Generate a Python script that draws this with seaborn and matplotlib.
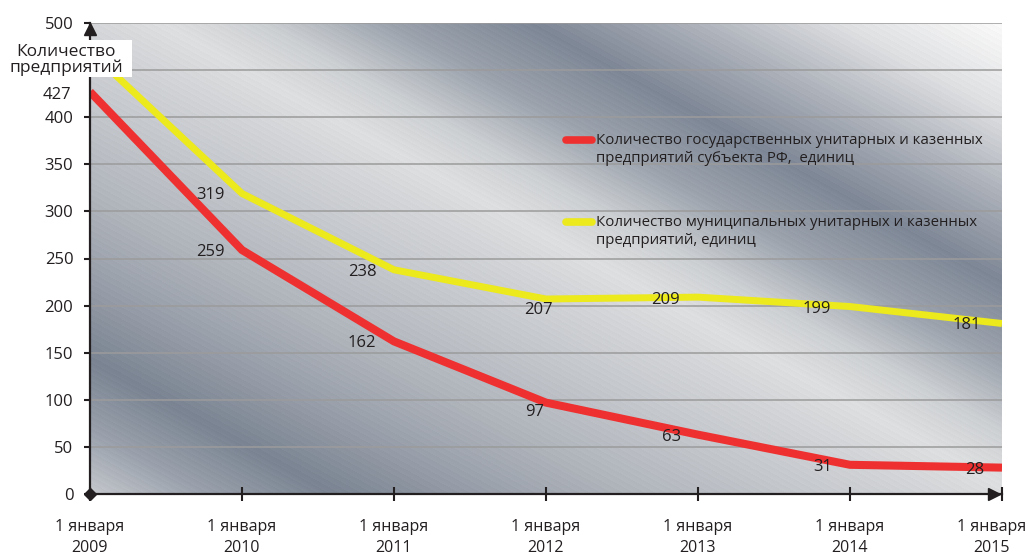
import numpy as np
import pandas as pd
import matplotlib
matplotlib.use('Agg')
import matplotlib.pyplot as plt
import seaborn as sns
from matplotlib.colors import to_rgb
from matplotlib.patches import Rectangle
from matplotlib.transforms import ScaledTranslation

# ---------------- data ----------------
years = ['2009', '2010', '2011', '2012', '2013', '2014', '2015']
tick_labels = ['1 января\n' + y for y in years]
state_values = [427, 259, 162, 97, 63, 31, 28]
municipal_values = [470, 319, 238, 207, 209, 199, 181]
state_label = 'Количество государственных унитарных и казенных\nпредприятий субъекта РФ,  единиц'
municipal_label = 'Количество муниципальных унитарных и казенных\nпредприятий, единиц'
y_ticks = [0, 50, 100, 150, 200, 250, 300, 350, 400, 450, 500]
y_tick_labels = ['0', '50', '100', '150', '200', '250', '300', '350', '400', '', '500']
axis_title = 'Количество\nпредприятий'

# label offsets in pixels (style)
state_offsets = [(-33, -3), (-32, -2), (-32, -2), (-11, -9), (-26, -2), (-27, -2), (-27, -2.5)]
municipal_offsets = [None, (-32, -1.5), (-32, -2), (-8, -11), (-33, -3), (-33, -2), (-35, -1.5)]

RED = '#ee3130'
YEL = '#ece91c'
INK = '#231f20'

plt.rcParams['font.family'] = ['Open Sans', 'DejaVu Sans']

fig = plt.figure(figsize=(10.28, 5.57), dpi=100)
L, R, B, T = 90, 1002, 494, 23
ax = fig.add_axes([L / 1028, (557 - B) / 557, (R - L) / 1028, (B - T) / 557])

# ---------------- background gradient ----------------
W, H = R - L, B - T
xg = L + np.arange(W)
yg = T + np.arange(H)
X, Y = np.meshgrid(xg, yg)
P = Y - 0.55 * X
prof = [(-530, '#fbfbfb'), (-440, '#dfe0e2'), (-350, '#a9aeb7'), (-270, '#7e8796'),
        (-190, '#9ca3ad'), (-120, '#cdd0d3'), (-65, '#dedfe0'), (-20, '#d3d5d8'),
        (60, '#c3c6cb'), (150, '#afb4bb'), (230, '#989ea9'), (310, '#7a8492'),
        (380, '#9aa1ac'), (460, '#d0d2d5')]
pp = [a for a, _ in prof]
cc = np.array([to_rgb(c) for _, c in prof])
img = np.stack([np.interp(P, pp, cc[:, k]) for k in range(3)], axis=-1)
img += (0.018 * (((P / 6.0) % 1.0) - 0.5))[..., None]
img = np.clip(img, 0, 1)
ax.imshow(img, extent=(0, 6, 0, 500), aspect='auto', origin='upper', zorder=0,
          interpolation='bilinear')

# ---------------- lines ----------------
n = len(years)
df = pd.DataFrame({
    'idx': list(range(n)) * 2,
    'value': state_values + municipal_values,
    'series': ['state'] * n + ['municipal'] * n,
})
sns.lineplot(data=df, x='idx', y='value', hue='series', hue_order=['municipal', 'state'],
             palette={'state': RED, 'municipal': YEL}, linewidth=5.5, legend=False,
             sort=False, ax=ax, zorder=3)
for ln in ax.lines:
    ln.set_solid_joinstyle('miter')
    ln.set_solid_capstyle('butt')
ax.lines[0].set_linewidth(5.0)
ax.lines[1].set_linewidth(5.8)

ax.set_xlim(0, 6)
ax.set_ylim(0, 500)

# ---------------- data labels ----------------
for i, (v, off) in enumerate(zip(state_values, state_offsets)):
    ax.annotate(str(v), (i, v), xytext=off, textcoords='offset pixels', ha='center',
                va='center', fontsize=12, color=INK, annotation_clip=False, zorder=6)
for i, (v, off) in enumerate(zip(municipal_values, municipal_offsets)):
    if off is None:
        continue
    ax.annotate(str(v), (i, v), xytext=off, textcoords='offset pixels', ha='center',
                va='center', fontsize=12, color=INK, annotation_clip=False, zorder=6)

# ---------------- axes styling ----------------
ax.set_xticks(range(n))
ax.set_xticklabels(tick_labels, linespacing=1.45)
ax.set_yticks(y_ticks)
ax.set_yticklabels(y_tick_labels)
ax.set_xlabel('')
ax.set_ylabel('')
ax.yaxis.grid(True, color='#9b9b9b', linewidth=1.1)
ax.xaxis.grid(False)
ax.set_axisbelow(True)
for s in ['top', 'right']:
    ax.spines[s].set_visible(False)
for s in ['left', 'bottom']:
    ax.spines[s].set_color(INK)
    ax.spines[s].set_linewidth(1.6)
    ax.spines[s].set_zorder(5)
ax.tick_params(axis='y', direction='out', length=4, width=1.5, pad=8, labelsize=12,
               colors=INK)
ax.tick_params(axis='x', direction='inout', length=10, width=1.5, pad=13, labelsize=11.5,
               colors=INK)
last = ax.get_xticklabels()[-1]
last.set_transform(last.get_transform() + ScaledTranslation(-10 / 100, 0, fig.dpi_scale_trans))

# axis arrows and origin marker
ax.plot([0], [0.987], marker='^', markersize=8.5, color=INK, transform=ax.transAxes,
        clip_on=False, zorder=7)
ax.plot([0.991], [0], marker='>', markersize=8.5, color=INK, transform=ax.transAxes,
        clip_on=False, zorder=7)
ax.plot([0], [0], marker='D', markersize=6, color=INK, transform=ax.transAxes,
        clip_on=False, zorder=7)

# ---------------- legend (manual) ----------------
leg_items = [(state_label, RED, 140), (municipal_label, YEL, 222)]
for text, col, ypix in leg_items:
    ya = (B - ypix) / (B - T)
    ax.plot([(566 - L) / W, (592 - L) / W], [ya, ya], color=col, linewidth=5.5,
            solid_capstyle='round', transform=ax.transAxes, clip_on=False, zorder=6)
    ax.text((596 - L) / W, ya + 7 / H, text, transform=ax.transAxes, ha='left', va='top',
            fontsize=10.8, linespacing=1.3, color=INK, zorder=6)

# ---------------- axis title box ----------------
fig.patches.append(Rectangle((0, 1 - 77 / 557), 132 / 1028, 37 / 557,
                             transform=fig.transFigure, facecolor='white',
                             edgecolor='none', zorder=2))
fig.text(66 / 1028, 1 - 60 / 557, axis_title, ha='center', va='center', fontsize=12.5,
         linespacing=1.0, color=INK, zorder=3)

fig.savefig('out.png', dpi=100)
